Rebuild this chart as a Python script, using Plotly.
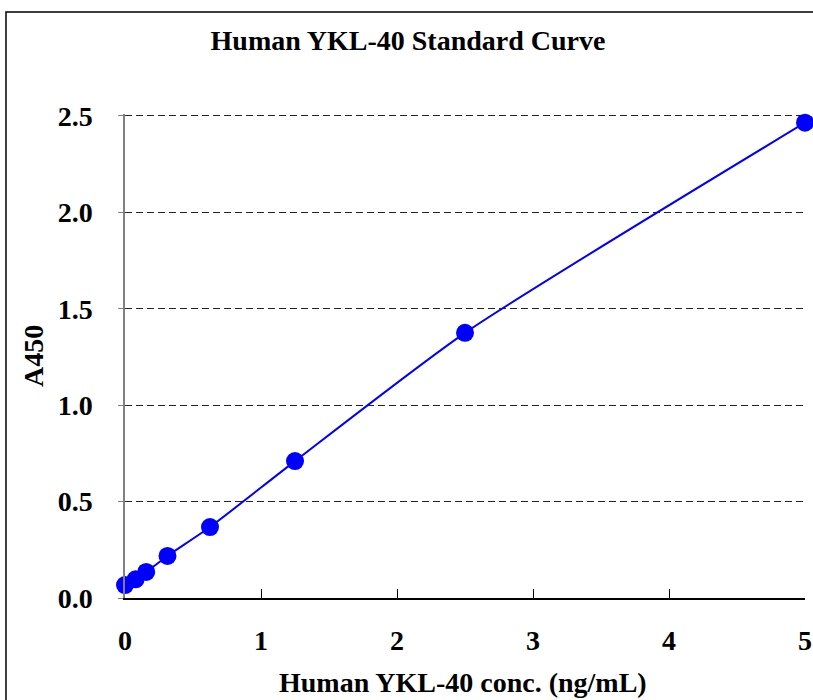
import plotly.graph_objects as go

conc = [0, 0.078, 0.156, 0.3125, 0.625, 1.25, 2.5, 5]
a450 = [0.067, 0.097, 0.135, 0.218, 0.368, 0.71, 1.375, 2.465]
x_ticks = [0, 1, 2, 3, 4, 5]
y_ticks = [0.0, 0.5, 1.0, 1.5, 2.0, 2.5]
y_tick_text = ["0.0", "0.5", "1.0", "1.5", "2.0", "2.5"]

FONT = "Liberation Serif"
W, H = 813, 700
L, R, T, B = 125, 8, 114, 102
PW, PH = W - L - R, H - T - B
FS = 28

fig = go.Figure()
fig.add_trace(go.Scatter(
    x=conc, y=a450, mode="lines+markers",
    line=dict(color="#0000FF", width=2, shape="spline", smoothing=0.6),
    marker=dict(color="#0000FF", size=18),
    cliponaxis=False, showlegend=False,
))

fig.update_layout(
    width=W, height=H,
    margin=dict(l=L, r=R, t=T, b=B),
    paper_bgcolor="white", plot_bgcolor="white",
    font=dict(family=FONT, color="black"),
    title=dict(text="<b>Human YKL-40 Standard Curve</b>", font=dict(size=FS, family=FONT),
               x=408 / W, xanchor="center", y=1 - 40 / H, yanchor="middle",
               xref="container", yref="container"),
    xaxis=dict(range=[0, 5], tickvals=x_ticks, ticks="inside", ticklen=9,
               tickcolor="black", showline=True, linecolor="black", linewidth=1.5,
               showgrid=False, zeroline=False, automargin=False,
               tickfont=dict(size=FS, family=FONT, weight="bold"), ticklabelstandoff=17),
    yaxis=dict(range=[0, 2.51], tickvals=y_ticks, ticktext=y_tick_text,
               ticks="outside", ticklen=5, tickcolor="#808080",
               showline=True, linecolor="#808080", linewidth=1.5,
               showgrid=True, gridcolor="#222222", griddash="7px,4px", gridwidth=1,
               zeroline=False, automargin=False,
               tickfont=dict(size=FS, family=FONT, weight="bold"), ticklabelstandoff=20),
    shapes=[dict(type="rect", xref="paper", yref="paper",
                 x0=(6 - L) / PW, x1=1.2, y0=-0.5, y1=(H - B - 12) / PH,
                 line=dict(color="black", width=1.5), fillcolor="rgba(0,0,0,0)", layer="below")],
    annotations=[
        dict(text="<b>Human YKL-40 conc. (ng/mL)</b>", xref="paper", yref="paper",
             x=(463 - L) / PW, y=-(682 - (H - B)) / PH, xanchor="center", yanchor="middle",
             showarrow=False, font=dict(size=FS, family=FONT)),
        dict(text="<b>A450</b>", xref="paper", yref="paper", textangle=-90,
             x=(33 - L) / PW, y=(H - B - 356) / PH, xanchor="center", yanchor="middle",
             showarrow=False, font=dict(size=FS, family=FONT)),
    ],
)

fig.write_html("out.html", config={"displayModeBar": False},
               post_script="document.body.style.margin='0px';document.body.style.overflow='hidden';")
